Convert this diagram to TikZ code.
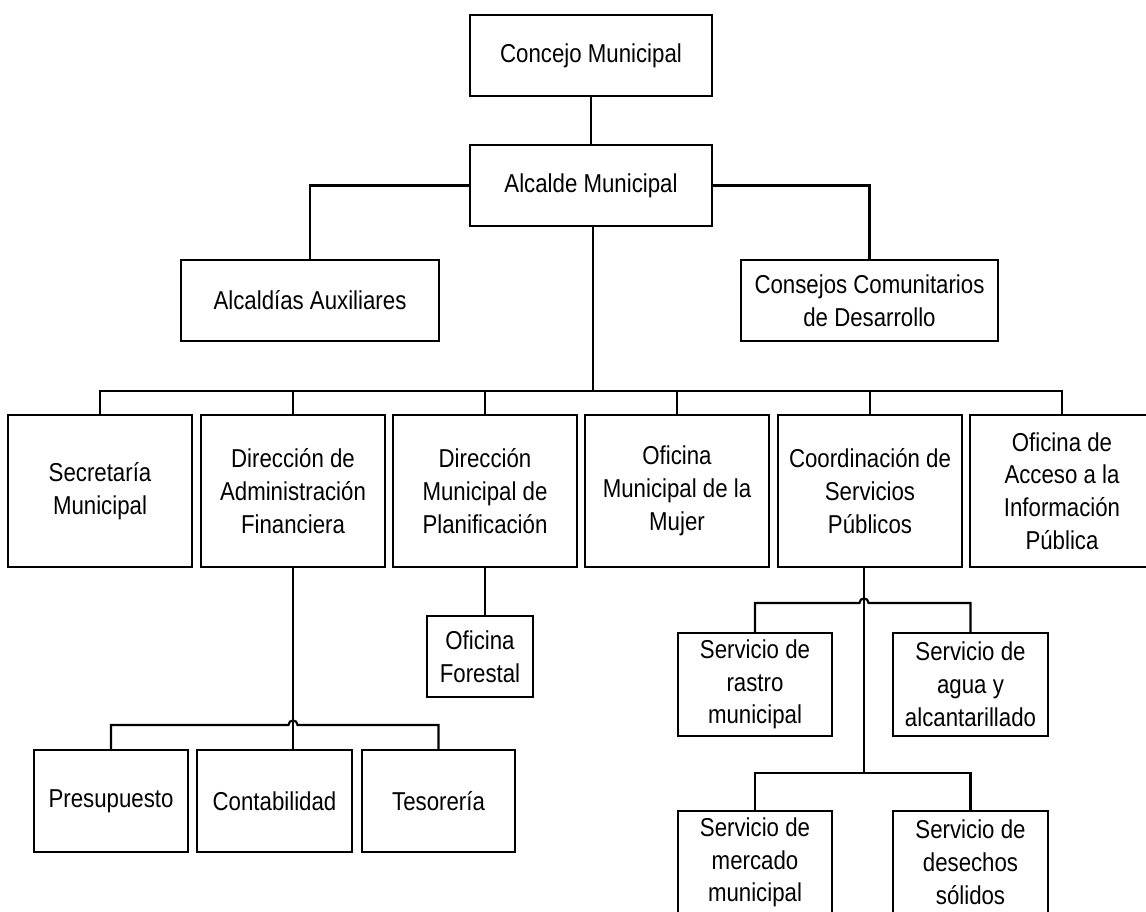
\documentclass[tikz,border=0pt]{standalone}
\usepackage{fontspec}
\setmainfont{Liberation Sans}[FakeStretch=0.86]
\begin{document}
\begin{tikzpicture}[x=0.75pt,y=-0.75pt,
  box/.style={draw, line width=1pt, inner sep=0pt, align=center,
    font=\fontsize{19.4}{24.6}\selectfont},
  wh/.style 2 args={minimum width=#1*0.75pt, minimum height=#2*0.75pt},
  link/.style={line width=1.6pt}]
\useasboundingbox (0,0) rectangle (1146,912);
\clip (0,0) rectangle (1146,912);
\fill[white] (0,0) rectangle (1146,912);

% top levels
\node[box, wh={242}{81}] (concejo) at (591,55.5) {Concejo Municipal};
\node[box, wh={242}{81}] (alcalde) at (591,185.5) {Alcalde Municipal};
\node[box, wh={258}{81}] (aux) at (310,300.5) {Alcaldías Auxiliares};
\node[box, wh={257}{81}] (consejos) at (869.5,300.5) {Consejos Comunitarios\\de Desarrollo};

% second row
\node[box, wh={184}{152}] (sec)  at (100,491)  {Secretaría\\Municipal};
\node[box, wh={184}{152}] (daf)  at (293,491)  {Dirección de\\Administración\\Financiera};
\node[box, wh={184}{152}] (dmp)  at (485,491)  {Dirección\\Municipal de\\Planificación};
\node[box, wh={184}{152}] (omm)  at (677,491)  {Oficina\\Municipal de la\\Mujer};
\node[box, wh={184}{152}] (csp)  at (870,491)  {Coordinación de\\Servicios\\Públicos};
\node[box, wh={184}{152}] (oaip) at (1062,491) {Oficina de\\Acceso a la\\Información\\Pública};

% third level
\node[box, wh={106}{81}] (forestal) at (480,656.5) {Oficina\\Forestal};
\node[box, wh={154}{102}] (pres) at (111,801) {Presupuesto};
\node[box, wh={155}{102}] (cont) at (274.5,801) {Contabilidad};
\node[box, wh={153}{102}] (tes)  at (438.5,801) {Tesorería};

\node[box, wh={154}{103}] (rastro)   at (755,684.5) {Servicio de\\rastro\\municipal};
\node[box, wh={155}{103}] (agua)     at (970.5,684.5) {Servicio de\\agua y\\alcantarillado};
\node[box, wh={154}{103}] (mercado)  at (755,862.5) {Servicio de\\mercado\\municipal};
\node[box, wh={155}{103}] (desechos) at (970.5,862.5) {Servicio de\\desechos\\sólidos};

% connectors
\coordinate (bus) at (593,391);
\coordinate (hopA) at (293,725);
\coordinate (hopB) at (864,603);
\coordinate (busC) at (864,773);

\draw[link] (concejo.south) -- (alcalde.north);
\draw[link] (alcalde.west) -| (aux.north);
\draw[link] (alcalde.east) -| (consejos.north);
\draw[link] (alcalde.south -| bus) -- (bus);
\foreach \n in {sec,daf,dmp,omm,csp,oaip}
  \draw[link] (bus) -| (\n.north);

% finance branch
\draw[link] (daf.south) -- (daf.south |- cont.north);
\draw[link] (pres.north) |- ([xshift=-3.4pt]hopA)
  .. controls ([xshift=-3.4pt,yshift=4.5pt]hopA) and ([xshift=3.4pt,yshift=4.5pt]hopA) .. ([xshift=3.4pt]hopA)
  -| (tes.north);

% planning branch
\draw[link] (dmp.south) -- (dmp.south |- forestal.north);

% services branch
\draw[link] (csp.south -| busC) -- (busC);
\draw[link] (rastro.north) |- ([xshift=-3.4pt]hopB)
  .. controls ([xshift=-3.4pt,yshift=4.5pt]hopB) and ([xshift=3.4pt,yshift=4.5pt]hopB) .. ([xshift=3.4pt]hopB)
  -| (agua.north);
\draw[link] (mercado.north) |- (busC) -| (desechos.north);
\end{tikzpicture}
\end{document}
